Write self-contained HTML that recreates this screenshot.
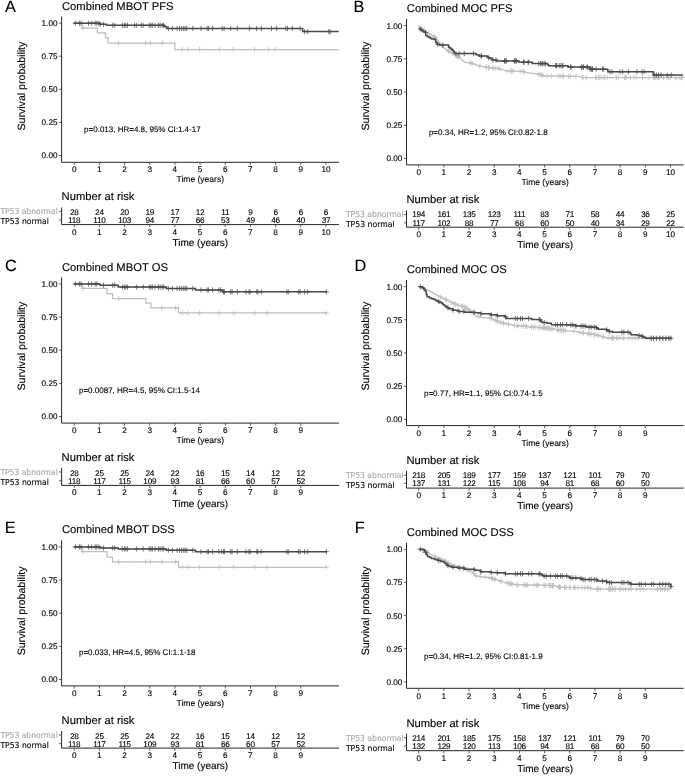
<!DOCTYPE html>
<html><head><meta charset="utf-8"><title>Figure</title>
<style>
html,body{margin:0;padding:0;background:#fff}
svg{display:block}
text{font-family:"Liberation Sans",sans-serif;text-rendering:geometricPrecision;stroke:#000;stroke-width:.12px}
text.n{letter-spacing:-0.25px}
text.g{stroke:#a8a8a8}
text.rl{font-family:"DejaVu Sans",sans-serif;font-size:8.2px}
</style></head><body>
<svg width="685" height="776" viewBox="0 0 685 776">
<rect width="685" height="776" fill="#fff"/>
<g>
<text x="4.9" y="11.7" font-size="16.3" fill="#000">A</text>
<text x="61.9" y="10.2" font-size="11.25" fill="#000">Combined MBOT PFS</text>
<path d="M61.60 16.50V162.30H339.00" fill="none" stroke="#262626" stroke-width="1"/>
<text x="57.5" y="158.4" font-size="8.2" text-anchor="end" fill="#000">0.00</text>
<text x="57.5" y="125.3" font-size="8.2" text-anchor="end" fill="#000">0.25</text>
<text x="57.5" y="92.2" font-size="8.2" text-anchor="end" fill="#000">0.50</text>
<text x="57.5" y="59.1" font-size="8.2" text-anchor="end" fill="#000">0.75</text>
<text x="57.5" y="26.0" font-size="8.2" text-anchor="end" fill="#000">1.00</text>
<text x="74.2" y="172.2" font-size="8.2" text-anchor="middle" fill="#000">0</text>
<text x="99.4" y="172.2" font-size="8.2" text-anchor="middle" fill="#000">1</text>
<text x="124.6" y="172.2" font-size="8.2" text-anchor="middle" fill="#000">2</text>
<text x="149.8" y="172.2" font-size="8.2" text-anchor="middle" fill="#000">3</text>
<text x="174.9" y="172.2" font-size="8.2" text-anchor="middle" fill="#000">4</text>
<text x="200.1" y="172.2" font-size="8.2" text-anchor="middle" fill="#000">5</text>
<text x="225.3" y="172.2" font-size="8.2" text-anchor="middle" fill="#000">6</text>
<text x="250.4" y="172.2" font-size="8.2" text-anchor="middle" fill="#000">7</text>
<text x="275.6" y="172.2" font-size="8.2" text-anchor="middle" fill="#000">8</text>
<text x="300.8" y="172.2" font-size="8.2" text-anchor="middle" fill="#000">9</text>
<text x="326.0" y="172.2" font-size="8.2" text-anchor="middle" fill="#000">10</text>
<path d="M61.60 155.50h-2.7M61.60 122.40h-2.7M61.60 89.30h-2.7M61.60 56.20h-2.7M61.60 23.10h-2.7M74.25 162.30v2.7M99.42 162.30v2.7M124.59 162.30v2.7M149.76 162.30v2.7M174.93 162.30v2.7M200.10 162.30v2.7M225.27 162.30v2.7M250.44 162.30v2.7M275.61 162.30v2.7M300.78 162.30v2.7M325.95 162.30v2.7" stroke="#333" stroke-width="0.75" fill="none"/>
<text x="200.3" y="182.3" font-size="8.5" text-anchor="middle" fill="#000">Time (years)</text>
<text transform="translate(24.9 86.1) rotate(-90)" font-size="10.6" text-anchor="middle" fill="#000">Survival probability</text>
<text x="84.1" y="132.2" font-size="8" fill="#000">p=0.013, HR=4.8, 95% CI:1.4-17</text>
<path d="M73.90 23.20 L82.00 23.20 L82.00 28.00 L97.40 28.00 L97.40 32.90 L105.40 32.90 L105.40 37.60 L108.00 37.60 L108.00 43.10 L174.90 43.10 L174.90 49.50 L339.00 49.50 L339.00 49.50" fill="none" stroke="#bebebe" stroke-width="1.25"/>
<path d="M199.60 46.90v5.20M197.00 49.50h5.20M83.09 25.40v5.20M80.49 28.00h5.20M118.66 40.50v5.20M116.06 43.10h5.20M145.84 40.50v5.20M143.24 43.10h5.20M150.54 40.50v5.20M147.94 43.10h5.20M162.19 40.50v5.20M159.59 43.10h5.20M182.22 46.90v5.20M179.62 49.50h5.20M187.73 46.90v5.20M185.13 49.50h5.20M219.42 46.90v5.20M216.82 49.50h5.20M233.11 46.90v5.20M230.51 49.50h5.20M254.57 46.90v5.20M251.97 49.50h5.20M268.47 46.90v5.20M265.87 49.50h5.20M275.21 46.90v5.20M272.61 49.50h5.20" fill="none" stroke="#bebebe" stroke-width="0.75"/>
<path d="M73.90 23.20 L99.85 23.20 L99.85 24.31 L106.60 24.31 L106.60 25.33 L164.23 25.33 L164.23 26.76 L166.80 26.76 L166.80 28.50 L302.70 28.50 L302.70 31.60 L338.70 31.60 L338.70 31.60" fill="none" stroke="#4a4a4a" stroke-width="1.5"/>
<path d="M75.33 20.60v5.20M72.73 23.20h5.20M79.42 20.60v5.20M76.82 23.20h5.20M81.05 20.60v5.20M78.45 23.20h5.20M88.61 20.60v5.20M86.01 23.20h5.20M91.68 20.60v5.20M89.08 23.20h5.20M95.15 20.60v5.20M92.55 23.20h5.20M96.79 20.60v5.20M94.19 23.20h5.20M98.83 20.60v5.20M96.23 23.20h5.20M100.26 21.71v5.20M97.66 24.31h5.20M103.53 21.71v5.20M100.93 24.31h5.20M112.73 22.73v5.20M110.13 25.33h5.20M114.77 22.73v5.20M112.17 25.33h5.20M122.33 22.73v5.20M119.73 25.33h5.20M124.38 22.73v5.20M121.78 25.33h5.20M125.81 22.73v5.20M123.21 25.33h5.20M127.44 22.73v5.20M124.84 25.33h5.20M134.60 22.73v5.20M132.00 25.33h5.20M136.64 22.73v5.20M134.04 25.33h5.20M141.34 22.73v5.20M138.74 25.33h5.20M143.18 22.73v5.20M140.58 25.33h5.20M149.31 22.73v5.20M146.71 25.33h5.20M150.95 22.73v5.20M148.35 25.33h5.20M152.38 22.73v5.20M149.78 25.33h5.20M155.03 22.73v5.20M152.43 25.33h5.20M158.51 22.73v5.20M155.91 25.33h5.20M160.14 22.73v5.20M157.54 25.33h5.20M162.19 22.73v5.20M159.59 25.33h5.20M163.62 22.73v5.20M161.02 25.33h5.20M168.32 25.90v5.20M165.72 28.50h5.20M172.41 25.90v5.20M169.81 28.50h5.20M177.11 25.90v5.20M174.51 28.50h5.20M179.56 25.90v5.20M176.96 28.50h5.20M181.60 25.90v5.20M179.00 28.50h5.20M183.65 25.90v5.20M181.05 28.50h5.20M185.08 25.90v5.20M182.48 28.50h5.20M186.71 25.90v5.20M184.11 28.50h5.20M192.84 25.90v5.20M190.24 28.50h5.20M201.02 25.90v5.20M198.42 28.50h5.20M207.15 25.90v5.20M204.55 28.50h5.20M208.58 25.90v5.20M205.98 28.50h5.20M212.67 25.90v5.20M210.07 28.50h5.20M222.07 25.90v5.20M219.47 28.50h5.20M224.12 25.90v5.20M221.52 28.50h5.20M230.66 25.90v5.20M228.06 28.50h5.20M237.40 25.90v5.20M234.80 28.50h5.20M249.46 25.90v5.20M246.86 28.50h5.20M256.61 25.90v5.20M254.01 28.50h5.20M261.31 25.90v5.20M258.71 28.50h5.20M271.53 25.90v5.20M268.93 28.50h5.20M276.64 25.90v5.20M274.04 28.50h5.20M285.84 25.90v5.20M283.24 28.50h5.20M287.47 25.90v5.20M284.87 28.50h5.20M292.38 25.90v5.20M289.78 28.50h5.20M300.14 25.90v5.20M297.54 28.50h5.20M304.64 29.00v5.20M302.04 31.60h5.20M307.70 29.00v5.20M305.10 31.60h5.20M328.76 29.00v5.20M326.16 31.60h5.20M330.19 29.00v5.20M327.59 31.60h5.20" fill="none" stroke="#4a4a4a" stroke-width="0.75"/>
<text x="61.6" y="200.3" font-size="11.2" fill="#000">Number at risk</text>
<path d="M61.60 207.50V224.60H339.00" stroke="#262626" stroke-width="1" fill="none"/>
<text x="74.2" y="234.5" font-size="8.2" text-anchor="middle" fill="#000">0</text>
<text class="n" x="74.2" y="215.0" font-size="8.2" text-anchor="middle" fill="#000">28</text>
<text class="n" x="74.2" y="223.0" font-size="8.2" text-anchor="middle" fill="#000">118</text>
<text x="99.4" y="234.5" font-size="8.2" text-anchor="middle" fill="#000">1</text>
<text class="n" x="99.4" y="215.0" font-size="8.2" text-anchor="middle" fill="#000">24</text>
<text class="n" x="99.4" y="223.0" font-size="8.2" text-anchor="middle" fill="#000">110</text>
<text x="124.6" y="234.5" font-size="8.2" text-anchor="middle" fill="#000">2</text>
<text class="n" x="124.6" y="215.0" font-size="8.2" text-anchor="middle" fill="#000">20</text>
<text class="n" x="124.6" y="223.0" font-size="8.2" text-anchor="middle" fill="#000">103</text>
<text x="149.8" y="234.5" font-size="8.2" text-anchor="middle" fill="#000">3</text>
<text class="n" x="149.8" y="215.0" font-size="8.2" text-anchor="middle" fill="#000">19</text>
<text class="n" x="149.8" y="223.0" font-size="8.2" text-anchor="middle" fill="#000">94</text>
<text x="174.9" y="234.5" font-size="8.2" text-anchor="middle" fill="#000">4</text>
<text class="n" x="174.9" y="215.0" font-size="8.2" text-anchor="middle" fill="#000">17</text>
<text class="n" x="174.9" y="223.0" font-size="8.2" text-anchor="middle" fill="#000">77</text>
<text x="200.1" y="234.5" font-size="8.2" text-anchor="middle" fill="#000">5</text>
<text class="n" x="200.1" y="215.0" font-size="8.2" text-anchor="middle" fill="#000">12</text>
<text class="n" x="200.1" y="223.0" font-size="8.2" text-anchor="middle" fill="#000">66</text>
<text x="225.3" y="234.5" font-size="8.2" text-anchor="middle" fill="#000">6</text>
<text class="n" x="225.3" y="215.0" font-size="8.2" text-anchor="middle" fill="#000">11</text>
<text class="n" x="225.3" y="223.0" font-size="8.2" text-anchor="middle" fill="#000">53</text>
<text x="250.4" y="234.5" font-size="8.2" text-anchor="middle" fill="#000">7</text>
<text class="n" x="250.4" y="215.0" font-size="8.2" text-anchor="middle" fill="#000">9</text>
<text class="n" x="250.4" y="223.0" font-size="8.2" text-anchor="middle" fill="#000">49</text>
<text x="275.6" y="234.5" font-size="8.2" text-anchor="middle" fill="#000">8</text>
<text class="n" x="275.6" y="215.0" font-size="8.2" text-anchor="middle" fill="#000">6</text>
<text class="n" x="275.6" y="223.0" font-size="8.2" text-anchor="middle" fill="#000">46</text>
<text x="300.8" y="234.5" font-size="8.2" text-anchor="middle" fill="#000">9</text>
<text class="n" x="300.8" y="215.0" font-size="8.2" text-anchor="middle" fill="#000">6</text>
<text class="n" x="300.8" y="223.0" font-size="8.2" text-anchor="middle" fill="#000">40</text>
<text x="326.0" y="234.5" font-size="8.2" text-anchor="middle" fill="#000">10</text>
<text class="n" x="326.0" y="215.0" font-size="8.2" text-anchor="middle" fill="#000">6</text>
<text class="n" x="326.0" y="223.0" font-size="8.2" text-anchor="middle" fill="#000">37</text>
<path d="M61.60 211.70h-2.7M61.60 220.10h-2.7M74.25 224.60v2.7M99.42 224.60v2.7M124.59 224.60v2.7M149.76 224.60v2.7M174.93 224.60v2.7M200.10 224.60v2.7M225.27 224.60v2.7M250.44 224.60v2.7M275.61 224.60v2.7M300.78 224.60v2.7M325.95 224.60v2.7" stroke="#333" stroke-width="0.75" fill="none"/>
<text class="rl g" x="0.4" y="214.0" fill="#a8a8a8" textLength="57.4" lengthAdjust="spacingAndGlyphs">TP53 abnormal</text>
<text class="rl" x="0.4" y="224.0" fill="#000" textLength="48.4" lengthAdjust="spacingAndGlyphs">TP53 normal</text>
<text x="200.3" y="246.0" font-size="10" text-anchor="middle" fill="#000">Time (years)</text>
</g>
<g>
<text x="353.4" y="11.7" font-size="16.3" fill="#000">B</text>
<text x="406.8" y="12.0" font-size="11.25" fill="#000">Combined MOC PFS</text>
<path d="M406.50 19.00V164.90H683.70" fill="none" stroke="#262626" stroke-width="1"/>
<text x="402.4" y="161.4" font-size="8.2" text-anchor="end" fill="#000">0.00</text>
<text x="402.4" y="128.2" font-size="8.2" text-anchor="end" fill="#000">0.25</text>
<text x="402.4" y="95.0" font-size="8.2" text-anchor="end" fill="#000">0.50</text>
<text x="402.4" y="61.7" font-size="8.2" text-anchor="end" fill="#000">0.75</text>
<text x="402.4" y="28.5" font-size="8.2" text-anchor="end" fill="#000">1.00</text>
<text x="418.7" y="175.0" font-size="8.2" text-anchor="middle" fill="#000">0</text>
<text x="443.9" y="175.0" font-size="8.2" text-anchor="middle" fill="#000">1</text>
<text x="469.1" y="175.0" font-size="8.2" text-anchor="middle" fill="#000">2</text>
<text x="494.2" y="175.0" font-size="8.2" text-anchor="middle" fill="#000">3</text>
<text x="519.4" y="175.0" font-size="8.2" text-anchor="middle" fill="#000">4</text>
<text x="544.6" y="175.0" font-size="8.2" text-anchor="middle" fill="#000">5</text>
<text x="569.8" y="175.0" font-size="8.2" text-anchor="middle" fill="#000">6</text>
<text x="595.0" y="175.0" font-size="8.2" text-anchor="middle" fill="#000">7</text>
<text x="620.1" y="175.0" font-size="8.2" text-anchor="middle" fill="#000">8</text>
<text x="645.3" y="175.0" font-size="8.2" text-anchor="middle" fill="#000">9</text>
<text x="670.5" y="175.0" font-size="8.2" text-anchor="middle" fill="#000">10</text>
<path d="M406.50 158.50h-2.7M406.50 125.28h-2.7M406.50 92.05h-2.7M406.50 58.82h-2.7M406.50 25.60h-2.7M418.70 164.90v2.7M443.88 164.90v2.7M469.06 164.90v2.7M494.24 164.90v2.7M519.42 164.90v2.7M544.60 164.90v2.7M569.78 164.90v2.7M594.96 164.90v2.7M620.14 164.90v2.7M645.32 164.90v2.7M670.50 164.90v2.7" stroke="#333" stroke-width="0.75" fill="none"/>
<text x="545.1" y="185.1" font-size="8.5" text-anchor="middle" fill="#000">Time (years)</text>
<text transform="translate(368.5 86.1) rotate(-90)" font-size="10.6" text-anchor="middle" fill="#000">Survival probability</text>
<text x="428.9" y="134.6" font-size="8" fill="#000">p=0.34, HR=1.2, 95% CI:0.82-1.8</text>
<path d="M418.18 25.59 L420.51 27.34 L422.85 29.09 L425.18 30.85 L427.52 32.60 L430.44 34.35 L433.36 36.10 L436.28 38.44 L438.61 41.36 L440.95 44.28 L443.28 47.20 L446.20 49.53 L449.71 51.87 L453.21 53.62 L456.72 55.96 L460.22 58.29 L462.55 60.63 L466.06 62.38 L470.73 62.96 L474.23 64.13 L478.91 65.88 L484.74 67.05 L490.00 67.64 L499.52 68.72 L505.66 70.77 L522.01 71.38 L528.14 72.81 L538.36 73.83 L543.47 75.87 L579.23 76.49 L582.30 77.51 L683.00 77.51" fill="none" stroke="#bebebe" stroke-width="1.25"/>
<path d="M420.79 24.95v5.20M418.19 27.55h5.20M423.93 27.31v5.20M421.33 29.91h5.20M429.04 30.91v5.20M426.44 33.51h5.20M434.06 34.06v5.20M431.46 36.66h5.20M434.28 34.24v5.20M431.68 36.84h5.20M435.56 35.27v5.20M432.96 37.87h5.20M442.20 43.24v5.20M439.60 45.84h5.20M448.22 48.27v5.20M445.62 50.87h5.20M448.58 48.52v5.20M445.98 51.12h5.20M452.65 50.74v5.20M450.05 53.34h5.20M456.24 53.04v5.20M453.64 55.64h5.20M457.54 53.91v5.20M454.94 56.51h5.20M458.09 54.27v5.20M455.49 56.87h5.20M458.34 54.44v5.20M455.74 57.04h5.20M470.19 60.30v5.20M467.59 62.90h5.20M470.25 60.30v5.20M467.65 62.90h5.20M472.08 60.81v5.20M469.48 63.41h5.20M479.74 63.45v5.20M477.14 66.05h5.20M486.30 64.62v5.20M483.70 67.22h5.20M486.37 64.63v5.20M483.77 67.23h5.20M488.61 64.88v5.20M486.01 67.48h5.20M488.97 64.92v5.20M486.37 67.52h5.20M489.12 64.94v5.20M486.52 67.54h5.20M492.88 65.36v5.20M490.28 67.96h5.20M493.00 65.38v5.20M490.40 67.98h5.20M495.63 65.68v5.20M493.03 68.28h5.20M497.97 65.94v5.20M495.37 68.54h5.20M499.78 66.21v5.20M497.18 68.81h5.20M507.60 68.24v5.20M505.00 70.84h5.20M510.61 68.35v5.20M508.01 70.95h5.20M511.71 68.39v5.20M509.11 70.99h5.20M513.11 68.44v5.20M510.51 71.04h5.20M520.07 68.71v5.20M517.47 71.31h5.20M522.86 68.98v5.20M520.26 71.58h5.20M524.05 69.26v5.20M521.45 71.86h5.20M537.85 71.18v5.20M535.25 73.78h5.20M539.66 71.75v5.20M537.06 74.35h5.20M541.11 72.33v5.20M538.51 74.93h5.20M541.16 72.35v5.20M538.56 74.95h5.20M542.86 73.03v5.20M540.26 75.63h5.20M547.18 73.34v5.20M544.58 75.94h5.20M551.23 73.41v5.20M548.63 76.01h5.20M558.33 73.53v5.20M555.73 76.13h5.20M560.18 73.56v5.20M557.58 76.16h5.20M562.81 73.61v5.20M560.21 76.21h5.20M563.32 73.62v5.20M560.72 76.22h5.20M568.54 73.70v5.20M565.94 76.30h5.20M570.26 73.73v5.20M567.66 76.33h5.20M575.97 73.83v5.20M573.37 76.43h5.20M582.60 74.91v5.20M580.00 77.51h5.20M582.97 74.91v5.20M580.37 77.51h5.20M586.21 74.91v5.20M583.61 77.51h5.20M595.53 74.91v5.20M592.93 77.51h5.20M596.43 74.91v5.20M593.83 77.51h5.20M598.60 74.91v5.20M596.00 77.51h5.20M598.77 74.91v5.20M596.17 77.51h5.20M599.99 74.91v5.20M597.39 77.51h5.20M601.75 74.91v5.20M599.15 77.51h5.20M603.92 74.91v5.20M601.32 77.51h5.20M604.75 74.91v5.20M602.15 77.51h5.20M607.21 74.91v5.20M604.61 77.51h5.20M616.27 74.91v5.20M613.67 77.51h5.20M616.30 74.91v5.20M613.70 77.51h5.20M618.44 74.91v5.20M615.84 77.51h5.20M624.90 74.91v5.20M622.30 77.51h5.20M624.97 74.91v5.20M622.37 77.51h5.20M625.84 74.91v5.20M623.24 77.51h5.20M625.92 74.91v5.20M623.32 77.51h5.20M630.47 74.91v5.20M627.87 77.51h5.20M633.92 74.91v5.20M631.32 77.51h5.20M636.06 74.91v5.20M633.46 77.51h5.20M642.52 74.91v5.20M639.92 77.51h5.20M642.58 74.91v5.20M639.98 77.51h5.20M648.82 74.91v5.20M646.22 77.51h5.20M653.35 74.91v5.20M650.75 77.51h5.20M653.85 74.91v5.20M651.25 77.51h5.20M654.71 74.91v5.20M652.11 77.51h5.20M655.70 74.91v5.20M653.10 77.51h5.20M657.17 74.91v5.20M654.57 77.51h5.20M658.40 74.91v5.20M655.80 77.51h5.20M658.41 74.91v5.20M655.81 77.51h5.20M658.82 74.91v5.20M656.22 77.51h5.20M663.55 74.91v5.20M660.95 77.51h5.20M663.65 74.91v5.20M661.05 77.51h5.20M666.98 74.91v5.20M664.38 77.51h5.20M668.58 74.91v5.20M665.98 77.51h5.20M669.92 74.91v5.20M667.32 77.51h5.20M675.82 74.91v5.20M673.22 77.51h5.20M675.99 74.91v5.20M673.39 77.51h5.20M679.07 74.91v5.20M676.47 77.51h5.20M680.93 74.91v5.20M678.33 77.51h5.20M681.17 74.91v5.20M678.57 77.51h5.20M682.70 74.91v5.20M680.10 77.51h5.20" fill="none" stroke="#bebebe" stroke-width="0.75"/>
<path d="M418.76 28.51 L420.51 28.51 L420.51 29.68 L421.68 29.68 L421.68 30.55 L422.85 30.55 L422.85 31.43 L425.18 31.43 L425.18 32.60 L425.77 32.60 L425.77 35.52 L427.23 35.52 L427.23 36.39 L428.69 36.39 L428.69 37.27 L430.15 37.27 L430.15 38.15 L431.61 38.15 L431.61 39.02 L434.53 39.02 L434.53 39.61 L435.69 39.61 L435.69 41.94 L436.57 41.94 L436.57 43.11 L437.45 43.11 L437.45 44.28 L439.20 44.28 L439.20 45.09 L447.37 45.09 L448.54 45.09 L448.54 47.20 L449.71 47.20 L449.71 48.07 L450.88 48.07 L450.88 48.95 L452.04 48.95 L452.04 50.12 L453.21 50.12 L453.21 51.28 L454.09 51.28 L454.09 52.45 L454.96 52.45 L454.96 53.62 L473.65 53.62 L475.99 53.62 L475.99 54.79 L478.91 54.79 L478.91 55.96 L485.91 55.96 L487.08 55.96 L487.08 56.83 L488.25 56.83 L488.25 57.71 L490.00 57.71 L490.00 58.29 L490.33 58.29 L490.33 58.50 L492.37 58.50 L492.37 59.93 L496.46 59.93 L496.46 60.96 L516.90 60.96 L518.94 60.96 L518.94 62.18 L530.18 62.18 L532.22 62.18 L532.22 63.61 L546.53 63.61 L547.55 63.61 L547.55 64.63 L548.57 64.63 L548.57 65.66 L566.97 65.66 L567.99 65.66 L567.99 67.09 L588.43 67.09 L589.86 67.09 L589.86 69.13 L606.82 69.13 L607.84 69.13 L607.84 71.79 L615.00 71.79 L652.30 71.79 L653.32 71.79 L653.32 75.04 L682.95 75.04" fill="none" stroke="#4a4a4a" stroke-width="1.5"/>
<path d="M420.94 27.08v5.20M418.34 29.68h5.20M425.44 30.00v5.20M422.84 32.60h5.20M437.70 41.68v5.20M435.10 44.28h5.20M442.81 42.49v5.20M440.21 45.09h5.20M456.09 51.02v5.20M453.49 53.62h5.20M459.16 51.02v5.20M456.56 53.62h5.20M464.27 51.02v5.20M461.67 53.62h5.20M473.47 51.02v5.20M470.87 53.62h5.20M481.64 53.36v5.20M479.04 55.96h5.20M488.79 55.11v5.20M486.19 57.71h5.20M492.88 57.33v5.20M490.28 59.93h5.20M495.95 57.33v5.20M493.35 59.93h5.20M504.73 58.36v5.20M502.13 60.96h5.20M506.16 58.36v5.20M503.56 60.96h5.20M514.34 58.36v5.20M511.74 60.96h5.20M516.38 58.36v5.20M513.78 60.96h5.20M523.54 59.58v5.20M520.94 62.18h5.20M528.65 59.58v5.20M526.05 62.18h5.20M538.86 61.01v5.20M536.26 63.61h5.20M541.93 61.01v5.20M539.33 63.61h5.20M481.13 53.36v5.20M478.53 55.96h5.20M504.63 58.36v5.20M502.03 60.96h5.20M506.06 58.36v5.20M503.46 60.96h5.20M514.85 58.36v5.20M512.25 60.96h5.20M515.87 58.36v5.20M513.27 60.96h5.20M524.05 59.58v5.20M521.45 62.18h5.20M528.14 59.58v5.20M525.54 62.18h5.20M540.40 61.01v5.20M537.80 63.61h5.20M542.44 61.01v5.20M539.84 63.61h5.20M544.08 61.01v5.20M541.48 63.61h5.20M545.51 61.01v5.20M542.91 63.61h5.20M555.73 63.06v5.20M553.13 65.66h5.20M556.75 63.06v5.20M554.15 65.66h5.20M560.84 63.06v5.20M558.24 65.66h5.20M562.88 63.06v5.20M560.28 65.66h5.20M571.06 64.49v5.20M568.46 67.09h5.20M581.27 64.49v5.20M578.67 67.09h5.20M583.32 64.49v5.20M580.72 67.09h5.20M587.41 64.49v5.20M584.81 67.09h5.20M591.49 66.53v5.20M588.89 69.13h5.20M592.51 66.53v5.20M589.91 69.13h5.20M602.73 66.53v5.20M600.13 69.13h5.20M556.24 63.06v5.20M553.64 65.66h5.20M559.31 63.06v5.20M556.71 65.66h5.20M562.37 63.06v5.20M559.77 65.66h5.20M570.55 64.49v5.20M567.95 67.09h5.20M581.79 64.49v5.20M579.19 67.09h5.20M583.42 64.49v5.20M580.82 67.09h5.20M586.90 64.49v5.20M584.30 67.09h5.20M590.37 66.53v5.20M587.77 69.13h5.20M592.41 66.53v5.20M589.81 69.13h5.20M596.09 66.53v5.20M593.49 69.13h5.20M603.25 66.53v5.20M600.65 69.13h5.20M609.99 69.19v5.20M607.39 71.79h5.20M612.03 69.19v5.20M609.43 71.79h5.20M620.01 69.19v5.20M617.41 71.79h5.20M622.66 69.19v5.20M620.06 71.79h5.20M628.38 69.19v5.20M625.78 71.79h5.20M636.97 69.19v5.20M634.37 71.79h5.20M642.08 69.19v5.20M639.48 71.79h5.20M644.12 69.19v5.20M641.52 71.79h5.20M654.34 72.44v5.20M651.74 75.04h5.20M656.38 72.44v5.20M653.78 75.04h5.20M658.43 72.44v5.20M655.83 75.04h5.20M661.08 72.44v5.20M658.48 75.04h5.20M667.22 72.44v5.20M664.62 75.04h5.20M671.30 72.44v5.20M668.70 75.04h5.20" fill="none" stroke="#4a4a4a" stroke-width="0.75"/>
<text x="406.5" y="203.0" font-size="11.2" fill="#000">Number at risk</text>
<path d="M406.50 210.20V227.20H683.70" stroke="#262626" stroke-width="1" fill="none"/>
<text x="418.7" y="237.0" font-size="8.2" text-anchor="middle" fill="#000">0</text>
<text class="n" x="418.7" y="217.3" font-size="8.2" text-anchor="middle" fill="#000">194</text>
<text class="n" x="418.7" y="225.8" font-size="8.2" text-anchor="middle" fill="#000">117</text>
<text x="443.9" y="237.0" font-size="8.2" text-anchor="middle" fill="#000">1</text>
<text class="n" x="443.9" y="217.3" font-size="8.2" text-anchor="middle" fill="#000">161</text>
<text class="n" x="443.9" y="225.8" font-size="8.2" text-anchor="middle" fill="#000">102</text>
<text x="469.1" y="237.0" font-size="8.2" text-anchor="middle" fill="#000">2</text>
<text class="n" x="469.1" y="217.3" font-size="8.2" text-anchor="middle" fill="#000">135</text>
<text class="n" x="469.1" y="225.8" font-size="8.2" text-anchor="middle" fill="#000">88</text>
<text x="494.2" y="237.0" font-size="8.2" text-anchor="middle" fill="#000">3</text>
<text class="n" x="494.2" y="217.3" font-size="8.2" text-anchor="middle" fill="#000">123</text>
<text class="n" x="494.2" y="225.8" font-size="8.2" text-anchor="middle" fill="#000">77</text>
<text x="519.4" y="237.0" font-size="8.2" text-anchor="middle" fill="#000">4</text>
<text class="n" x="519.4" y="217.3" font-size="8.2" text-anchor="middle" fill="#000">111</text>
<text class="n" x="519.4" y="225.8" font-size="8.2" text-anchor="middle" fill="#000">68</text>
<text x="544.6" y="237.0" font-size="8.2" text-anchor="middle" fill="#000">5</text>
<text class="n" x="544.6" y="217.3" font-size="8.2" text-anchor="middle" fill="#000">83</text>
<text class="n" x="544.6" y="225.8" font-size="8.2" text-anchor="middle" fill="#000">60</text>
<text x="569.8" y="237.0" font-size="8.2" text-anchor="middle" fill="#000">6</text>
<text class="n" x="569.8" y="217.3" font-size="8.2" text-anchor="middle" fill="#000">71</text>
<text class="n" x="569.8" y="225.8" font-size="8.2" text-anchor="middle" fill="#000">50</text>
<text x="595.0" y="237.0" font-size="8.2" text-anchor="middle" fill="#000">7</text>
<text class="n" x="595.0" y="217.3" font-size="8.2" text-anchor="middle" fill="#000">58</text>
<text class="n" x="595.0" y="225.8" font-size="8.2" text-anchor="middle" fill="#000">40</text>
<text x="620.1" y="237.0" font-size="8.2" text-anchor="middle" fill="#000">8</text>
<text class="n" x="620.1" y="217.3" font-size="8.2" text-anchor="middle" fill="#000">44</text>
<text class="n" x="620.1" y="225.8" font-size="8.2" text-anchor="middle" fill="#000">34</text>
<text x="645.3" y="237.0" font-size="8.2" text-anchor="middle" fill="#000">9</text>
<text class="n" x="645.3" y="217.3" font-size="8.2" text-anchor="middle" fill="#000">36</text>
<text class="n" x="645.3" y="225.8" font-size="8.2" text-anchor="middle" fill="#000">29</text>
<text x="670.5" y="237.0" font-size="8.2" text-anchor="middle" fill="#000">10</text>
<text class="n" x="670.5" y="217.3" font-size="8.2" text-anchor="middle" fill="#000">25</text>
<text class="n" x="670.5" y="225.8" font-size="8.2" text-anchor="middle" fill="#000">22</text>
<path d="M406.50 214.70h-2.7M406.50 222.90h-2.7M418.70 227.20v2.7M443.88 227.20v2.7M469.06 227.20v2.7M494.24 227.20v2.7M519.42 227.20v2.7M544.60 227.20v2.7M569.78 227.20v2.7M594.96 227.20v2.7M620.14 227.20v2.7M645.32 227.20v2.7M670.50 227.20v2.7" stroke="#333" stroke-width="0.75" fill="none"/>
<text class="rl g" x="345.9" y="217.0" fill="#a8a8a8" textLength="57.8" lengthAdjust="spacingAndGlyphs">TP53 abnormal</text>
<text class="rl" x="345.9" y="227.0" fill="#000" textLength="48.7" lengthAdjust="spacingAndGlyphs">TP53 normal</text>
<text x="545.1" y="248.3" font-size="10" text-anchor="middle" fill="#000">Time (years)</text>
</g>
<g>
<text x="5.0" y="271.4" font-size="16.3" fill="#000">C</text>
<text x="61.9" y="270.6" font-size="11.25" fill="#000">Combined MBOT OS</text>
<path d="M61.60 277.30V423.10H339.00" fill="none" stroke="#262626" stroke-width="1"/>
<text x="57.5" y="419.4" font-size="8.2" text-anchor="end" fill="#000">0.00</text>
<text x="57.5" y="386.2" font-size="8.2" text-anchor="end" fill="#000">0.25</text>
<text x="57.5" y="353.1" font-size="8.2" text-anchor="end" fill="#000">0.50</text>
<text x="57.5" y="319.9" font-size="8.2" text-anchor="end" fill="#000">0.75</text>
<text x="57.5" y="286.8" font-size="8.2" text-anchor="end" fill="#000">1.00</text>
<text x="74.2" y="433.0" font-size="8.2" text-anchor="middle" fill="#000">0</text>
<text x="99.4" y="433.0" font-size="8.2" text-anchor="middle" fill="#000">1</text>
<text x="124.6" y="433.0" font-size="8.2" text-anchor="middle" fill="#000">2</text>
<text x="149.8" y="433.0" font-size="8.2" text-anchor="middle" fill="#000">3</text>
<text x="174.9" y="433.0" font-size="8.2" text-anchor="middle" fill="#000">4</text>
<text x="200.1" y="433.0" font-size="8.2" text-anchor="middle" fill="#000">5</text>
<text x="225.3" y="433.0" font-size="8.2" text-anchor="middle" fill="#000">6</text>
<text x="250.4" y="433.0" font-size="8.2" text-anchor="middle" fill="#000">7</text>
<text x="275.6" y="433.0" font-size="8.2" text-anchor="middle" fill="#000">8</text>
<text x="300.8" y="433.0" font-size="8.2" text-anchor="middle" fill="#000">9</text>
<path d="M61.60 416.50h-2.7M61.60 383.35h-2.7M61.60 350.20h-2.7M61.60 317.05h-2.7M61.60 283.90h-2.7M74.25 423.10v2.7M99.42 423.10v2.7M124.59 423.10v2.7M149.76 423.10v2.7M174.93 423.10v2.7M200.10 423.10v2.7M225.27 423.10v2.7M250.44 423.10v2.7M275.61 423.10v2.7M300.78 423.10v2.7" stroke="#333" stroke-width="0.75" fill="none"/>
<text x="200.3" y="443.1" font-size="8.5" text-anchor="middle" fill="#000">Time (years)</text>
<text transform="translate(24.9 346.1) rotate(-90)" font-size="10.6" text-anchor="middle" fill="#000">Survival probability</text>
<text x="79.0" y="393.3" font-size="8" fill="#000">p=0.0087, HR=4.5, 95% CI:1.5-14</text>
<path d="M73.90 283.90 L82.07 283.90 L82.07 288.39 L107.01 288.39 L107.01 293.50 L112.52 293.50 L112.52 298.61 L145.84 298.61 L145.84 303.11 L150.95 303.11 L150.95 307.81 L178.54 307.81 L178.54 312.92 L326.70 312.92 L326.70 313.10" fill="none" stroke="#bebebe" stroke-width="1.25"/>
<path d="M199.60 310.32v5.20M197.00 312.92h5.20M83.09 285.79v5.20M80.49 288.39h5.20M118.66 296.01v5.20M116.06 298.61h5.20M161.78 305.21v5.20M159.18 307.81h5.20M175.47 305.21v5.20M172.87 307.81h5.20M182.22 310.32v5.20M179.62 312.92h5.20M187.73 310.32v5.20M185.13 312.92h5.20M219.42 310.32v5.20M216.82 312.92h5.20M233.72 310.32v5.20M231.12 312.92h5.20M254.57 310.32v5.20M251.97 312.92h5.20M267.03 310.32v5.20M264.43 312.92h5.20M326.30 310.32v5.20M323.70 312.92h5.20" fill="none" stroke="#bebebe" stroke-width="0.75"/>
<path d="M73.90 283.90 L99.90 283.90 L99.90 285.30 L118.20 285.30 L118.20 287.10 L166.30 287.10 L166.30 288.50 L195.50 288.50 L195.50 289.90 L222.50 289.90 L222.50 291.80 L326.70 291.80 L326.70 291.80" fill="none" stroke="#4a4a4a" stroke-width="1.5"/>
<path d="M75.33 281.30v5.20M72.73 283.90h5.20M79.42 281.30v5.20M76.82 283.90h5.20M81.05 281.30v5.20M78.45 283.90h5.20M88.61 281.30v5.20M86.01 283.90h5.20M91.68 281.30v5.20M89.08 283.90h5.20M95.15 281.30v5.20M92.55 283.90h5.20M96.79 281.30v5.20M94.19 283.90h5.20M103.53 282.70v5.20M100.93 285.30h5.20M112.73 282.70v5.20M110.13 285.30h5.20M114.77 282.70v5.20M112.17 285.30h5.20M122.33 284.50v5.20M119.73 287.10h5.20M124.38 284.50v5.20M121.78 287.10h5.20M125.81 284.50v5.20M123.21 287.10h5.20M127.44 284.50v5.20M124.84 287.10h5.20M136.64 284.50v5.20M134.04 287.10h5.20M143.18 284.50v5.20M140.58 287.10h5.20M149.31 284.50v5.20M146.71 287.10h5.20M150.95 284.50v5.20M148.35 287.10h5.20M152.38 284.50v5.20M149.78 287.10h5.20M155.03 284.50v5.20M152.43 287.10h5.20M158.51 284.50v5.20M155.91 287.10h5.20M160.14 284.50v5.20M157.54 287.10h5.20M162.19 284.50v5.20M159.59 287.10h5.20M163.62 284.50v5.20M161.02 287.10h5.20M168.32 285.90v5.20M165.72 288.50h5.20M172.41 285.90v5.20M169.81 288.50h5.20M177.11 285.90v5.20M174.51 288.50h5.20M179.56 285.90v5.20M176.96 288.50h5.20M181.60 285.90v5.20M179.00 288.50h5.20M183.65 285.90v5.20M181.05 288.50h5.20M185.08 285.90v5.20M182.48 288.50h5.20M186.71 285.90v5.20M184.11 288.50h5.20M192.84 285.90v5.20M190.24 288.50h5.20M201.02 287.30v5.20M198.42 289.90h5.20M207.15 287.30v5.20M204.55 289.90h5.20M208.58 287.30v5.20M205.98 289.90h5.20M212.67 287.30v5.20M210.07 289.90h5.20M218.80 287.30v5.20M216.20 289.90h5.20M220.44 287.30v5.20M217.84 289.90h5.20M223.50 289.20v5.20M220.90 291.80h5.20M224.52 289.20v5.20M221.92 291.80h5.20M230.66 289.20v5.20M228.06 291.80h5.20M232.09 289.20v5.20M229.49 291.80h5.20M237.40 289.20v5.20M234.80 291.80h5.20M245.98 289.20v5.20M243.38 291.80h5.20M249.05 289.20v5.20M246.45 291.80h5.20M250.07 289.20v5.20M247.47 291.80h5.20M256.82 289.20v5.20M254.22 291.80h5.20M257.84 289.20v5.20M255.24 291.80h5.20M261.31 289.20v5.20M258.71 291.80h5.20M286.86 289.20v5.20M284.26 291.80h5.20M288.29 289.20v5.20M285.69 291.80h5.20M298.71 289.20v5.20M296.11 291.80h5.20M300.14 289.20v5.20M297.54 291.80h5.20M304.64 289.20v5.20M302.04 291.80h5.20M307.70 289.20v5.20M305.10 291.80h5.20M326.30 289.20v5.20M323.70 291.80h5.20" fill="none" stroke="#4a4a4a" stroke-width="0.75"/>
<text x="61.6" y="461.1" font-size="11.2" fill="#000">Number at risk</text>
<path d="M61.60 468.10V485.40H339.00" stroke="#262626" stroke-width="1" fill="none"/>
<text x="74.2" y="495.4" font-size="8.2" text-anchor="middle" fill="#000">0</text>
<text class="n" x="74.2" y="476.0" font-size="8.2" text-anchor="middle" fill="#000">28</text>
<text class="n" x="74.2" y="484.0" font-size="8.2" text-anchor="middle" fill="#000">118</text>
<text x="99.4" y="495.4" font-size="8.2" text-anchor="middle" fill="#000">1</text>
<text class="n" x="99.4" y="476.0" font-size="8.2" text-anchor="middle" fill="#000">25</text>
<text class="n" x="99.4" y="484.0" font-size="8.2" text-anchor="middle" fill="#000">117</text>
<text x="124.6" y="495.4" font-size="8.2" text-anchor="middle" fill="#000">2</text>
<text class="n" x="124.6" y="476.0" font-size="8.2" text-anchor="middle" fill="#000">25</text>
<text class="n" x="124.6" y="484.0" font-size="8.2" text-anchor="middle" fill="#000">115</text>
<text x="149.8" y="495.4" font-size="8.2" text-anchor="middle" fill="#000">3</text>
<text class="n" x="149.8" y="476.0" font-size="8.2" text-anchor="middle" fill="#000">24</text>
<text class="n" x="149.8" y="484.0" font-size="8.2" text-anchor="middle" fill="#000">109</text>
<text x="174.9" y="495.4" font-size="8.2" text-anchor="middle" fill="#000">4</text>
<text class="n" x="174.9" y="476.0" font-size="8.2" text-anchor="middle" fill="#000">22</text>
<text class="n" x="174.9" y="484.0" font-size="8.2" text-anchor="middle" fill="#000">93</text>
<text x="200.1" y="495.4" font-size="8.2" text-anchor="middle" fill="#000">5</text>
<text class="n" x="200.1" y="476.0" font-size="8.2" text-anchor="middle" fill="#000">16</text>
<text class="n" x="200.1" y="484.0" font-size="8.2" text-anchor="middle" fill="#000">81</text>
<text x="225.3" y="495.4" font-size="8.2" text-anchor="middle" fill="#000">6</text>
<text class="n" x="225.3" y="476.0" font-size="8.2" text-anchor="middle" fill="#000">15</text>
<text class="n" x="225.3" y="484.0" font-size="8.2" text-anchor="middle" fill="#000">66</text>
<text x="250.4" y="495.4" font-size="8.2" text-anchor="middle" fill="#000">7</text>
<text class="n" x="250.4" y="476.0" font-size="8.2" text-anchor="middle" fill="#000">14</text>
<text class="n" x="250.4" y="484.0" font-size="8.2" text-anchor="middle" fill="#000">60</text>
<text x="275.6" y="495.4" font-size="8.2" text-anchor="middle" fill="#000">8</text>
<text class="n" x="275.6" y="476.0" font-size="8.2" text-anchor="middle" fill="#000">12</text>
<text class="n" x="275.6" y="484.0" font-size="8.2" text-anchor="middle" fill="#000">57</text>
<text x="300.8" y="495.4" font-size="8.2" text-anchor="middle" fill="#000">9</text>
<text class="n" x="300.8" y="476.0" font-size="8.2" text-anchor="middle" fill="#000">12</text>
<text class="n" x="300.8" y="484.0" font-size="8.2" text-anchor="middle" fill="#000">52</text>
<path d="M61.60 472.00h-2.7M61.60 480.70h-2.7M74.25 485.40v2.7M99.42 485.40v2.7M124.59 485.40v2.7M149.76 485.40v2.7M174.93 485.40v2.7M200.10 485.40v2.7M225.27 485.40v2.7M250.44 485.40v2.7M275.61 485.40v2.7M300.78 485.40v2.7" stroke="#333" stroke-width="0.75" fill="none"/>
<text class="rl g" x="0.4" y="475.0" fill="#a8a8a8" textLength="57.4" lengthAdjust="spacingAndGlyphs">TP53 abnormal</text>
<text class="rl" x="0.4" y="485.0" fill="#000" textLength="48.4" lengthAdjust="spacingAndGlyphs">TP53 normal</text>
<text x="200.3" y="507.0" font-size="10" text-anchor="middle" fill="#000">Time (years)</text>
</g>
<g>
<text x="354.5" y="271.4" font-size="16.3" fill="#000">D</text>
<text x="406.8" y="273.3" font-size="11.25" fill="#000">Combined MOC OS</text>
<path d="M406.50 280.00V425.60H683.70" fill="none" stroke="#262626" stroke-width="1"/>
<text x="402.4" y="422.2" font-size="8.2" text-anchor="end" fill="#000">0.00</text>
<text x="402.4" y="389.0" font-size="8.2" text-anchor="end" fill="#000">0.25</text>
<text x="402.4" y="355.9" font-size="8.2" text-anchor="end" fill="#000">0.50</text>
<text x="402.4" y="322.7" font-size="8.2" text-anchor="end" fill="#000">0.75</text>
<text x="402.4" y="289.5" font-size="8.2" text-anchor="end" fill="#000">1.00</text>
<text x="418.7" y="435.8" font-size="8.2" text-anchor="middle" fill="#000">0</text>
<text x="443.9" y="435.8" font-size="8.2" text-anchor="middle" fill="#000">1</text>
<text x="469.1" y="435.8" font-size="8.2" text-anchor="middle" fill="#000">2</text>
<text x="494.2" y="435.8" font-size="8.2" text-anchor="middle" fill="#000">3</text>
<text x="519.4" y="435.8" font-size="8.2" text-anchor="middle" fill="#000">4</text>
<text x="544.6" y="435.8" font-size="8.2" text-anchor="middle" fill="#000">5</text>
<text x="569.8" y="435.8" font-size="8.2" text-anchor="middle" fill="#000">6</text>
<text x="595.0" y="435.8" font-size="8.2" text-anchor="middle" fill="#000">7</text>
<text x="620.1" y="435.8" font-size="8.2" text-anchor="middle" fill="#000">8</text>
<text x="645.3" y="435.8" font-size="8.2" text-anchor="middle" fill="#000">9</text>
<path d="M406.50 419.30h-2.7M406.50 386.12h-2.7M406.50 352.95h-2.7M406.50 319.78h-2.7M406.50 286.60h-2.7M418.70 425.60v2.7M443.88 425.60v2.7M469.06 425.60v2.7M494.24 425.60v2.7M519.42 425.60v2.7M544.60 425.60v2.7M569.78 425.60v2.7M594.96 425.60v2.7M620.14 425.60v2.7M645.32 425.60v2.7" stroke="#333" stroke-width="0.75" fill="none"/>
<text x="545.1" y="445.9" font-size="8.5" text-anchor="middle" fill="#000">Time (years)</text>
<text transform="translate(368.5 346.1) rotate(-90)" font-size="10.6" text-anchor="middle" fill="#000">Survival probability</text>
<text x="424.0" y="396.0" font-size="8" fill="#000">p=0.77, HR=1.1, 95% CI:0.74-1.5</text>
<path d="M418.90 286.65 L425.44 288.90 L430.55 291.35 L435.66 294.42 L440.77 297.07 L445.87 299.52 L452.01 302.59 L458.14 305.25 L464.27 306.68 L468.36 309.74 L472.44 312.81 L475.51 315.87 L482.66 317.51 L490.84 318.33 L496.97 320.98 L503.10 323.03 L509.23 324.46 L515.36 325.68 L523.54 326.09 L531.71 327.12 L535.00 327.29 L543.17 327.70 L551.35 328.72 L559.52 330.15 L567.70 330.77 L575.87 331.38 L582.01 332.81 L590.18 333.83 L596.31 334.85 L602.44 336.49 L605.51 337.92 L645.36 338.12 L670.91 338.12" fill="none" stroke="#bebebe" stroke-width="1.25"/>
<path d="M422.89 285.42v5.20M420.29 288.02h5.20M423.56 285.65v5.20M420.96 288.25h5.20M440.54 294.35v5.20M437.94 296.95h5.20M445.48 296.74v5.20M442.88 299.34h5.20M446.48 297.23v5.20M443.88 299.83h5.20M451.47 299.72v5.20M448.87 302.32h5.20M454.39 301.02v5.20M451.79 303.62h5.20M455.63 301.56v5.20M453.03 304.16h5.20M457.91 302.55v5.20M455.31 305.15h5.20M461.55 303.44v5.20M458.95 306.04h5.20M462.57 303.68v5.20M459.97 306.28h5.20M462.65 303.70v5.20M460.05 306.30h5.20M464.78 304.46v5.20M462.18 307.06h5.20M465.62 305.09v5.20M463.02 307.69h5.20M467.24 306.30v5.20M464.64 308.90h5.20M468.46 307.22v5.20M465.86 309.82h5.20M470.03 308.40v5.20M467.43 311.00h5.20M470.37 308.65v5.20M467.77 311.25h5.20M472.22 310.04v5.20M469.62 312.64h5.20M478.18 313.89v5.20M475.58 316.49h5.20M489.69 315.61v5.20M487.09 318.21h5.20M491.94 316.20v5.20M489.34 318.80h5.20M495.37 317.69v5.20M492.77 320.29h5.20M496.78 318.30v5.20M494.18 320.90h5.20M498.27 318.82v5.20M495.67 321.42h5.20M500.65 319.61v5.20M498.05 322.21h5.20M503.11 320.43v5.20M500.51 323.03h5.20M503.77 320.58v5.20M501.17 323.18h5.20M508.41 321.67v5.20M505.81 324.27h5.20M508.48 321.68v5.20M505.88 324.28h5.20M514.26 322.86v5.20M511.66 325.46h5.20M516.93 323.16v5.20M514.33 325.76h5.20M518.16 323.22v5.20M515.56 325.82h5.20M521.84 323.41v5.20M519.24 326.01h5.20M523.70 323.51v5.20M521.10 326.11h5.20M525.70 323.76v5.20M523.10 326.36h5.20M526.24 323.83v5.20M523.64 326.43h5.20M526.71 323.89v5.20M524.11 326.49h5.20M531.16 324.45v5.20M528.56 327.05h5.20M531.50 324.49v5.20M528.90 327.09h5.20M533.42 324.61v5.20M530.82 327.21h5.20M535.16 324.70v5.20M532.56 327.30h5.20M537.96 324.84v5.20M535.36 327.44h5.20M539.00 324.89v5.20M536.40 327.49h5.20M540.87 324.98v5.20M538.27 327.58h5.20M542.06 325.04v5.20M539.46 327.64h5.20M543.40 325.13v5.20M540.80 327.73h5.20M543.77 325.17v5.20M541.17 327.77h5.20M544.80 325.30v5.20M542.20 327.90h5.20M545.08 325.34v5.20M542.48 327.94h5.20M546.73 325.54v5.20M544.13 328.14h5.20M547.14 325.60v5.20M544.54 328.20h5.20M548.34 325.75v5.20M545.74 328.35h5.20M548.49 325.76v5.20M545.89 328.36h5.20M549.36 325.87v5.20M546.76 328.47h5.20M550.95 326.07v5.20M548.35 328.67h5.20M551.68 326.18v5.20M549.08 328.78h5.20M552.80 326.38v5.20M550.20 328.98h5.20M557.33 327.17v5.20M554.73 329.77h5.20M558.37 327.35v5.20M555.77 329.95h5.20M558.77 327.42v5.20M556.17 330.02h5.20M560.93 327.66v5.20M558.33 330.26h5.20M561.38 327.69v5.20M558.78 330.29h5.20M563.15 327.82v5.20M560.55 330.42h5.20M563.88 327.88v5.20M561.28 330.48h5.20M565.28 327.98v5.20M562.68 330.58h5.20M574.15 328.65v5.20M571.55 331.25h5.20M579.70 329.67v5.20M577.10 332.27h5.20M582.97 330.33v5.20M580.37 332.93h5.20M583.39 330.38v5.20M580.79 332.98h5.20M587.83 330.94v5.20M585.23 333.54h5.20M588.51 331.02v5.20M585.91 333.62h5.20M589.87 331.19v5.20M587.27 333.79h5.20M591.03 331.37v5.20M588.43 333.97h5.20M594.64 331.97v5.20M592.04 334.57h5.20M595.10 332.05v5.20M592.50 334.65h5.20M597.73 332.63v5.20M595.13 335.23h5.20M598.97 332.96v5.20M596.37 335.56h5.20M602.92 334.11v5.20M600.32 336.71h5.20M603.32 334.30v5.20M600.72 336.90h5.20M608.12 335.33v5.20M605.52 337.93h5.20M611.14 335.35v5.20M608.54 337.95h5.20M612.53 335.35v5.20M609.93 337.95h5.20M612.88 335.36v5.20M610.28 337.96h5.20M612.95 335.36v5.20M610.35 337.96h5.20M613.01 335.36v5.20M610.41 337.96h5.20M616.70 335.38v5.20M614.10 337.98h5.20M617.39 335.38v5.20M614.79 337.98h5.20M619.77 335.39v5.20M617.17 337.99h5.20M623.20 335.41v5.20M620.60 338.01h5.20M623.89 335.41v5.20M621.29 338.01h5.20M628.89 335.44v5.20M626.29 338.04h5.20M632.06 335.45v5.20M629.46 338.05h5.20M634.86 335.47v5.20M632.26 338.07h5.20M638.17 335.49v5.20M635.57 338.09h5.20M646.88 335.52v5.20M644.28 338.12h5.20M648.96 335.52v5.20M646.36 338.12h5.20M650.57 335.52v5.20M647.97 338.12h5.20M653.46 335.52v5.20M650.86 338.12h5.20M656.09 335.52v5.20M653.49 338.12h5.20M660.55 335.52v5.20M657.95 338.12h5.20M663.11 335.52v5.20M660.51 338.12h5.20M665.94 335.52v5.20M663.34 338.12h5.20M668.75 335.52v5.20M666.15 338.12h5.20M669.45 335.52v5.20M666.85 338.12h5.20" fill="none" stroke="#bebebe" stroke-width="0.75"/>
<path d="M418.90 286.65 L420.94 286.65 L422.37 286.65 L422.37 287.77 L423.80 287.77 L423.80 288.90 L424.62 288.90 L424.62 290.12 L425.44 290.12 L425.44 291.35 L426.25 291.35 L426.25 294.42 L427.07 294.42 L427.07 296.87 L429.52 296.87 L429.52 297.89 L431.57 297.89 L431.57 298.71 L433.61 298.71 L433.61 299.52 L435.66 299.52 L435.66 300.55 L437.70 300.55 L437.70 301.57 L439.74 301.57 L439.74 302.59 L441.79 302.59 L441.79 303.61 L443.15 303.61 L443.15 304.63 L444.51 304.63 L444.51 305.66 L445.87 305.66 L445.87 306.68 L447.41 306.68 L447.41 307.70 L448.94 307.70 L448.94 308.72 L453.03 308.72 L453.03 310.15 L458.14 310.15 L458.14 311.38 L464.27 311.38 L464.27 312.20 L474.49 312.20 L474.49 312.81 L480.62 312.81 L480.62 313.83 L490.84 313.83 L490.84 314.85 L496.97 314.85 L496.97 315.87 L505.14 315.87 L505.14 316.90 L506.16 316.90 L506.16 318.53 L527.62 318.53 L531.71 318.53 L531.71 319.55 L540.11 319.55 L540.11 320.55 L541.13 320.55 L541.13 321.57 L542.15 321.57 L542.15 322.59 L547.26 322.59 L547.26 323.20 L551.35 323.20 L551.35 324.63 L567.70 324.63 L567.70 325.04 L575.87 325.04 L575.87 326.06 L586.09 326.06 L586.09 327.09 L596.31 327.09 L596.31 327.70 L597.33 327.70 L597.33 328.52 L598.36 328.52 L598.36 329.33 L606.53 329.33 L606.53 329.74 L607.55 329.74 L607.55 330.56 L608.57 330.56 L608.57 331.38 L612.66 331.38 L612.66 332.20 L629.01 332.20 L630.03 332.20 L630.03 333.52 L631.06 333.52 L631.06 334.85 L637.19 334.85 L637.19 335.47 L641.27 335.47 L641.27 336.28 L643.32 336.28 L643.32 337.31 L645.36 337.31 L645.36 338.33 L671.93 338.33" fill="none" stroke="#4a4a4a" stroke-width="1.5"/>
<path d="M420.33 284.05v5.20M417.73 286.65h5.20M438.72 298.97v5.20M436.12 301.57h5.20M447.92 305.10v5.20M445.32 307.70h5.20M453.03 307.55v5.20M450.43 310.15h5.20M459.16 308.78v5.20M456.56 311.38h5.20M463.86 308.78v5.20M461.26 311.38h5.20M474.08 309.60v5.20M471.48 312.20h5.20M481.03 311.23v5.20M478.43 313.83h5.20M491.25 312.25v5.20M488.65 314.85h5.20M497.38 313.27v5.20M494.78 315.87h5.20M505.55 314.30v5.20M502.95 316.90h5.20M515.36 315.93v5.20M512.76 318.53h5.20M517.41 315.93v5.20M514.81 318.53h5.20M520.47 315.93v5.20M517.87 318.53h5.20M522.51 315.93v5.20M519.91 318.53h5.20M528.65 315.93v5.20M526.05 318.53h5.20M539.89 316.95v5.20M537.29 319.55h5.20M539.09 316.95v5.20M536.49 319.55h5.20M544.20 319.99v5.20M541.60 322.59h5.20M555.44 322.03v5.20M552.84 324.63h5.20M557.48 322.03v5.20M554.88 324.63h5.20M560.55 322.03v5.20M557.95 324.63h5.20M562.59 322.03v5.20M559.99 324.63h5.20M566.68 322.03v5.20M564.08 324.63h5.20M570.77 322.44v5.20M568.17 325.04h5.20M572.81 322.44v5.20M570.21 325.04h5.20M575.87 323.46v5.20M573.27 326.06h5.20M580.98 323.46v5.20M578.38 326.06h5.20M583.03 323.46v5.20M580.43 326.06h5.20M585.07 323.46v5.20M582.47 326.06h5.20M589.16 324.49v5.20M586.56 327.09h5.20M591.20 324.49v5.20M588.60 327.09h5.20M594.27 324.49v5.20M591.67 327.09h5.20M596.31 325.10v5.20M593.71 327.70h5.20M606.53 327.14v5.20M603.93 329.74h5.20M609.60 328.78v5.20M607.00 331.38h5.20M621.86 329.60v5.20M619.26 332.20h5.20M623.90 329.60v5.20M621.30 332.20h5.20M627.99 329.60v5.20M625.39 332.20h5.20M639.23 332.87v5.20M636.63 335.47h5.20M642.30 333.68v5.20M639.70 336.28h5.20M651.49 335.73v5.20M648.89 338.33h5.20M653.54 335.73v5.20M650.94 338.33h5.20M656.60 335.73v5.20M654.00 338.33h5.20M659.67 335.73v5.20M657.07 338.33h5.20M662.73 335.73v5.20M660.13 338.33h5.20M665.80 335.73v5.20M663.20 338.33h5.20M668.86 335.73v5.20M666.26 338.33h5.20M670.91 335.73v5.20M668.31 338.33h5.20" fill="none" stroke="#4a4a4a" stroke-width="0.75"/>
<text x="406.5" y="464.0" font-size="11.2" fill="#000">Number at risk</text>
<path d="M406.50 471.00V488.10H683.70" stroke="#262626" stroke-width="1" fill="none"/>
<text x="418.7" y="498.0" font-size="8.2" text-anchor="middle" fill="#000">0</text>
<text class="n" x="418.7" y="478.0" font-size="8.2" text-anchor="middle" fill="#000">218</text>
<text class="n" x="418.7" y="486.4" font-size="8.2" text-anchor="middle" fill="#000">137</text>
<text x="443.9" y="498.0" font-size="8.2" text-anchor="middle" fill="#000">1</text>
<text class="n" x="443.9" y="478.0" font-size="8.2" text-anchor="middle" fill="#000">205</text>
<text class="n" x="443.9" y="486.4" font-size="8.2" text-anchor="middle" fill="#000">131</text>
<text x="469.1" y="498.0" font-size="8.2" text-anchor="middle" fill="#000">2</text>
<text class="n" x="469.1" y="478.0" font-size="8.2" text-anchor="middle" fill="#000">189</text>
<text class="n" x="469.1" y="486.4" font-size="8.2" text-anchor="middle" fill="#000">122</text>
<text x="494.2" y="498.0" font-size="8.2" text-anchor="middle" fill="#000">3</text>
<text class="n" x="494.2" y="478.0" font-size="8.2" text-anchor="middle" fill="#000">177</text>
<text class="n" x="494.2" y="486.4" font-size="8.2" text-anchor="middle" fill="#000">115</text>
<text x="519.4" y="498.0" font-size="8.2" text-anchor="middle" fill="#000">4</text>
<text class="n" x="519.4" y="478.0" font-size="8.2" text-anchor="middle" fill="#000">159</text>
<text class="n" x="519.4" y="486.4" font-size="8.2" text-anchor="middle" fill="#000">108</text>
<text x="544.6" y="498.0" font-size="8.2" text-anchor="middle" fill="#000">5</text>
<text class="n" x="544.6" y="478.0" font-size="8.2" text-anchor="middle" fill="#000">137</text>
<text class="n" x="544.6" y="486.4" font-size="8.2" text-anchor="middle" fill="#000">94</text>
<text x="569.8" y="498.0" font-size="8.2" text-anchor="middle" fill="#000">6</text>
<text class="n" x="569.8" y="478.0" font-size="8.2" text-anchor="middle" fill="#000">121</text>
<text class="n" x="569.8" y="486.4" font-size="8.2" text-anchor="middle" fill="#000">81</text>
<text x="595.0" y="498.0" font-size="8.2" text-anchor="middle" fill="#000">7</text>
<text class="n" x="595.0" y="478.0" font-size="8.2" text-anchor="middle" fill="#000">101</text>
<text class="n" x="595.0" y="486.4" font-size="8.2" text-anchor="middle" fill="#000">68</text>
<text x="620.1" y="498.0" font-size="8.2" text-anchor="middle" fill="#000">8</text>
<text class="n" x="620.1" y="478.0" font-size="8.2" text-anchor="middle" fill="#000">79</text>
<text class="n" x="620.1" y="486.4" font-size="8.2" text-anchor="middle" fill="#000">60</text>
<text x="645.3" y="498.0" font-size="8.2" text-anchor="middle" fill="#000">9</text>
<text class="n" x="645.3" y="478.0" font-size="8.2" text-anchor="middle" fill="#000">70</text>
<text class="n" x="645.3" y="486.4" font-size="8.2" text-anchor="middle" fill="#000">50</text>
<path d="M406.50 475.30h-2.7M406.50 483.40h-2.7M418.70 488.10v2.7M443.88 488.10v2.7M469.06 488.10v2.7M494.24 488.10v2.7M519.42 488.10v2.7M544.60 488.10v2.7M569.78 488.10v2.7M594.96 488.10v2.7M620.14 488.10v2.7M645.32 488.10v2.7" stroke="#333" stroke-width="0.75" fill="none"/>
<text class="rl g" x="345.9" y="478.0" fill="#a8a8a8" textLength="57.8" lengthAdjust="spacingAndGlyphs">TP53 abnormal</text>
<text class="rl" x="345.9" y="488.0" fill="#000" textLength="48.7" lengthAdjust="spacingAndGlyphs">TP53 normal</text>
<text x="545.1" y="509.3" font-size="10" text-anchor="middle" fill="#000">Time (years)</text>
</g>
<g>
<text x="4.7" y="533.4" font-size="16.3" fill="#000">E</text>
<text x="61.9" y="533.3" font-size="11.25" fill="#000">Combined MBOT DSS</text>
<path d="M61.60 540.30V685.90H339.00" fill="none" stroke="#262626" stroke-width="1"/>
<text x="57.5" y="682.4" font-size="8.2" text-anchor="end" fill="#000">0.00</text>
<text x="57.5" y="649.2" font-size="8.2" text-anchor="end" fill="#000">0.25</text>
<text x="57.5" y="616.1" font-size="8.2" text-anchor="end" fill="#000">0.50</text>
<text x="57.5" y="582.9" font-size="8.2" text-anchor="end" fill="#000">0.75</text>
<text x="57.5" y="549.8" font-size="8.2" text-anchor="end" fill="#000">1.00</text>
<text x="74.2" y="696.0" font-size="8.2" text-anchor="middle" fill="#000">0</text>
<text x="99.4" y="696.0" font-size="8.2" text-anchor="middle" fill="#000">1</text>
<text x="124.6" y="696.0" font-size="8.2" text-anchor="middle" fill="#000">2</text>
<text x="149.8" y="696.0" font-size="8.2" text-anchor="middle" fill="#000">3</text>
<text x="174.9" y="696.0" font-size="8.2" text-anchor="middle" fill="#000">4</text>
<text x="200.1" y="696.0" font-size="8.2" text-anchor="middle" fill="#000">5</text>
<text x="225.3" y="696.0" font-size="8.2" text-anchor="middle" fill="#000">6</text>
<text x="250.4" y="696.0" font-size="8.2" text-anchor="middle" fill="#000">7</text>
<text x="275.6" y="696.0" font-size="8.2" text-anchor="middle" fill="#000">8</text>
<text x="300.8" y="696.0" font-size="8.2" text-anchor="middle" fill="#000">9</text>
<path d="M61.60 679.50h-2.7M61.60 646.35h-2.7M61.60 613.20h-2.7M61.60 580.05h-2.7M61.60 546.90h-2.7M74.25 685.90v2.7M99.42 685.90v2.7M124.59 685.90v2.7M149.76 685.90v2.7M174.93 685.90v2.7M200.10 685.90v2.7M225.27 685.90v2.7M250.44 685.90v2.7M275.61 685.90v2.7M300.78 685.90v2.7" stroke="#333" stroke-width="0.75" fill="none"/>
<text x="200.3" y="706.1" font-size="8.5" text-anchor="middle" fill="#000">Time (years)</text>
<text transform="translate(24.9 610.9) rotate(-90)" font-size="10.6" text-anchor="middle" fill="#000">Survival probability</text>
<text x="79.0" y="655.4" font-size="8" fill="#000">p=0.033, HR=4.5, 95% CI:1.1-18</text>
<path d="M73.90 546.85 L82.07 546.85 L82.07 551.55 L107.01 551.55 L107.01 557.07 L112.52 557.07 L112.52 561.77 L178.54 561.77 L178.54 567.29 L326.70 567.29 L326.70 567.30" fill="none" stroke="#bebebe" stroke-width="1.25"/>
<path d="M199.60 564.69v5.20M197.00 567.29h5.20M83.09 548.95v5.20M80.49 551.55h5.20M118.66 559.17v5.20M116.06 561.77h5.20M145.84 559.17v5.20M143.24 561.77h5.20M150.54 559.17v5.20M147.94 561.77h5.20M161.78 559.17v5.20M159.18 561.77h5.20M175.47 559.17v5.20M172.87 561.77h5.20M182.22 564.69v5.20M179.62 567.29h5.20M187.73 564.69v5.20M185.13 567.29h5.20M219.42 564.69v5.20M216.82 567.29h5.20M233.72 564.69v5.20M231.12 567.29h5.20M254.57 564.69v5.20M251.97 567.29h5.20M267.03 564.69v5.20M264.43 567.29h5.20M326.30 564.69v5.20M323.70 567.29h5.20" fill="none" stroke="#bebebe" stroke-width="0.75"/>
<path d="M73.90 546.90 L99.90 546.90 L99.90 548.00 L118.20 548.00 L118.20 548.90 L166.30 548.90 L166.30 550.30 L195.50 550.30 L195.50 551.70 L326.70 551.70 L326.70 551.70" fill="none" stroke="#4a4a4a" stroke-width="1.5"/>
<path d="M75.33 544.30v5.20M72.73 546.90h5.20M79.42 544.30v5.20M76.82 546.90h5.20M81.05 544.30v5.20M78.45 546.90h5.20M88.61 544.30v5.20M86.01 546.90h5.20M91.68 544.30v5.20M89.08 546.90h5.20M95.15 544.30v5.20M92.55 546.90h5.20M96.79 544.30v5.20M94.19 546.90h5.20M98.83 544.30v5.20M96.23 546.90h5.20M103.53 545.40v5.20M100.93 548.00h5.20M112.73 545.40v5.20M110.13 548.00h5.20M114.77 545.40v5.20M112.17 548.00h5.20M122.33 546.30v5.20M119.73 548.90h5.20M124.38 546.30v5.20M121.78 548.90h5.20M125.81 546.30v5.20M123.21 548.90h5.20M127.44 546.30v5.20M124.84 548.90h5.20M136.64 546.30v5.20M134.04 548.90h5.20M143.18 546.30v5.20M140.58 548.90h5.20M149.31 546.30v5.20M146.71 548.90h5.20M150.95 546.30v5.20M148.35 548.90h5.20M152.38 546.30v5.20M149.78 548.90h5.20M155.03 546.30v5.20M152.43 548.90h5.20M158.51 546.30v5.20M155.91 548.90h5.20M160.14 546.30v5.20M157.54 548.90h5.20M162.19 546.30v5.20M159.59 548.90h5.20M163.62 546.30v5.20M161.02 548.90h5.20M168.32 547.70v5.20M165.72 550.30h5.20M172.41 547.70v5.20M169.81 550.30h5.20M177.11 547.70v5.20M174.51 550.30h5.20M179.56 547.70v5.20M176.96 550.30h5.20M181.60 547.70v5.20M179.00 550.30h5.20M183.65 547.70v5.20M181.05 550.30h5.20M185.08 547.70v5.20M182.48 550.30h5.20M186.71 547.70v5.20M184.11 550.30h5.20M192.84 547.70v5.20M190.24 550.30h5.20M201.02 549.10v5.20M198.42 551.70h5.20M207.15 549.10v5.20M204.55 551.70h5.20M208.58 549.10v5.20M205.98 551.70h5.20M212.67 549.10v5.20M210.07 551.70h5.20M218.80 549.10v5.20M216.20 551.70h5.20M221.46 549.10v5.20M218.86 551.70h5.20M223.50 549.10v5.20M220.90 551.70h5.20M224.52 549.10v5.20M221.92 551.70h5.20M230.66 549.10v5.20M228.06 551.70h5.20M232.09 549.10v5.20M229.49 551.70h5.20M237.40 549.10v5.20M234.80 551.70h5.20M245.98 549.10v5.20M243.38 551.70h5.20M249.05 549.10v5.20M246.45 551.70h5.20M250.07 549.10v5.20M247.47 551.70h5.20M256.82 549.10v5.20M254.22 551.70h5.20M257.84 549.10v5.20M255.24 551.70h5.20M261.31 549.10v5.20M258.71 551.70h5.20M286.86 549.10v5.20M284.26 551.70h5.20M288.29 549.10v5.20M285.69 551.70h5.20M298.71 549.10v5.20M296.11 551.70h5.20M300.14 549.10v5.20M297.54 551.70h5.20M304.64 549.10v5.20M302.04 551.70h5.20M307.70 549.10v5.20M305.10 551.70h5.20M326.30 549.10v5.20M323.70 551.70h5.20" fill="none" stroke="#4a4a4a" stroke-width="0.75"/>
<text x="61.6" y="723.9" font-size="11.2" fill="#000">Number at risk</text>
<path d="M61.60 731.10V748.10H339.00" stroke="#262626" stroke-width="1" fill="none"/>
<text x="74.2" y="758.3" font-size="8.2" text-anchor="middle" fill="#000">0</text>
<text class="n" x="74.2" y="738.7" font-size="8.2" text-anchor="middle" fill="#000">28</text>
<text class="n" x="74.2" y="746.8" font-size="8.2" text-anchor="middle" fill="#000">118</text>
<text x="99.4" y="758.3" font-size="8.2" text-anchor="middle" fill="#000">1</text>
<text class="n" x="99.4" y="738.7" font-size="8.2" text-anchor="middle" fill="#000">25</text>
<text class="n" x="99.4" y="746.8" font-size="8.2" text-anchor="middle" fill="#000">117</text>
<text x="124.6" y="758.3" font-size="8.2" text-anchor="middle" fill="#000">2</text>
<text class="n" x="124.6" y="738.7" font-size="8.2" text-anchor="middle" fill="#000">25</text>
<text class="n" x="124.6" y="746.8" font-size="8.2" text-anchor="middle" fill="#000">115</text>
<text x="149.8" y="758.3" font-size="8.2" text-anchor="middle" fill="#000">3</text>
<text class="n" x="149.8" y="738.7" font-size="8.2" text-anchor="middle" fill="#000">24</text>
<text class="n" x="149.8" y="746.8" font-size="8.2" text-anchor="middle" fill="#000">109</text>
<text x="174.9" y="758.3" font-size="8.2" text-anchor="middle" fill="#000">4</text>
<text class="n" x="174.9" y="738.7" font-size="8.2" text-anchor="middle" fill="#000">22</text>
<text class="n" x="174.9" y="746.8" font-size="8.2" text-anchor="middle" fill="#000">93</text>
<text x="200.1" y="758.3" font-size="8.2" text-anchor="middle" fill="#000">5</text>
<text class="n" x="200.1" y="738.7" font-size="8.2" text-anchor="middle" fill="#000">16</text>
<text class="n" x="200.1" y="746.8" font-size="8.2" text-anchor="middle" fill="#000">81</text>
<text x="225.3" y="758.3" font-size="8.2" text-anchor="middle" fill="#000">6</text>
<text class="n" x="225.3" y="738.7" font-size="8.2" text-anchor="middle" fill="#000">15</text>
<text class="n" x="225.3" y="746.8" font-size="8.2" text-anchor="middle" fill="#000">66</text>
<text x="250.4" y="758.3" font-size="8.2" text-anchor="middle" fill="#000">7</text>
<text class="n" x="250.4" y="738.7" font-size="8.2" text-anchor="middle" fill="#000">14</text>
<text class="n" x="250.4" y="746.8" font-size="8.2" text-anchor="middle" fill="#000">60</text>
<text x="275.6" y="758.3" font-size="8.2" text-anchor="middle" fill="#000">8</text>
<text class="n" x="275.6" y="738.7" font-size="8.2" text-anchor="middle" fill="#000">12</text>
<text class="n" x="275.6" y="746.8" font-size="8.2" text-anchor="middle" fill="#000">57</text>
<text x="300.8" y="758.3" font-size="8.2" text-anchor="middle" fill="#000">9</text>
<text class="n" x="300.8" y="738.7" font-size="8.2" text-anchor="middle" fill="#000">12</text>
<text class="n" x="300.8" y="746.8" font-size="8.2" text-anchor="middle" fill="#000">52</text>
<path d="M61.60 735.00h-2.7M61.60 743.70h-2.7M74.25 748.10v2.7M99.42 748.10v2.7M124.59 748.10v2.7M149.76 748.10v2.7M174.93 748.10v2.7M200.10 748.10v2.7M225.27 748.10v2.7M250.44 748.10v2.7M275.61 748.10v2.7M300.78 748.10v2.7" stroke="#333" stroke-width="0.75" fill="none"/>
<text class="rl g" x="0.4" y="738.0" fill="#a8a8a8" textLength="57.4" lengthAdjust="spacingAndGlyphs">TP53 abnormal</text>
<text class="rl" x="0.4" y="748.0" fill="#000" textLength="48.4" lengthAdjust="spacingAndGlyphs">TP53 normal</text>
<text x="200.3" y="769.3" font-size="10" text-anchor="middle" fill="#000">Time (years)</text>
</g>
<g>
<text x="354.7" y="533.4" font-size="16.3" fill="#000">F</text>
<text x="406.8" y="535.8" font-size="11.25" fill="#000">Combined MOC DSS</text>
<path d="M406.50 542.80V688.30H683.70" fill="none" stroke="#262626" stroke-width="1"/>
<text x="402.4" y="684.8" font-size="8.2" text-anchor="end" fill="#000">0.00</text>
<text x="402.4" y="651.7" font-size="8.2" text-anchor="end" fill="#000">0.25</text>
<text x="402.4" y="618.5" font-size="8.2" text-anchor="end" fill="#000">0.50</text>
<text x="402.4" y="585.4" font-size="8.2" text-anchor="end" fill="#000">0.75</text>
<text x="402.4" y="552.3" font-size="8.2" text-anchor="end" fill="#000">1.00</text>
<text x="418.7" y="698.8" font-size="8.2" text-anchor="middle" fill="#000">0</text>
<text x="443.9" y="698.8" font-size="8.2" text-anchor="middle" fill="#000">1</text>
<text x="469.1" y="698.8" font-size="8.2" text-anchor="middle" fill="#000">2</text>
<text x="494.2" y="698.8" font-size="8.2" text-anchor="middle" fill="#000">3</text>
<text x="519.4" y="698.8" font-size="8.2" text-anchor="middle" fill="#000">4</text>
<text x="544.6" y="698.8" font-size="8.2" text-anchor="middle" fill="#000">5</text>
<text x="569.8" y="698.8" font-size="8.2" text-anchor="middle" fill="#000">6</text>
<text x="595.0" y="698.8" font-size="8.2" text-anchor="middle" fill="#000">7</text>
<text x="620.1" y="698.8" font-size="8.2" text-anchor="middle" fill="#000">8</text>
<text x="645.3" y="698.8" font-size="8.2" text-anchor="middle" fill="#000">9</text>
<path d="M406.50 681.90h-2.7M406.50 648.77h-2.7M406.50 615.65h-2.7M406.50 582.52h-2.7M406.50 549.40h-2.7M418.70 688.30v2.7M443.88 688.30v2.7M469.06 688.30v2.7M494.24 688.30v2.7M519.42 688.30v2.7M544.60 688.30v2.7M569.78 688.30v2.7M594.96 688.30v2.7M620.14 688.30v2.7M645.32 688.30v2.7" stroke="#333" stroke-width="0.75" fill="none"/>
<text x="545.1" y="708.9" font-size="8.5" text-anchor="middle" fill="#000">Time (years)</text>
<text transform="translate(368.5 610.9) rotate(-90)" font-size="10.6" text-anchor="middle" fill="#000">Survival probability</text>
<text x="424.0" y="659.0" font-size="8" fill="#000">p=0.34, HR=1.2, 95% CI:0.81-1.9</text>
<path d="M418.90 549.31 L425.44 550.94 L430.55 553.80 L435.66 556.46 L440.77 559.12 L445.87 561.57 L452.01 564.63 L458.14 566.68 L464.27 568.11 L468.36 570.15 L472.44 572.20 L475.51 575.87 L482.66 576.90 L490.84 577.92 L496.97 579.96 L503.10 582.01 L509.23 583.44 L515.36 584.66 L535.80 585.07 L555.44 585.66 L559.52 587.29 L590.18 587.70 L592.22 589.13 L669.89 589.13" fill="none" stroke="#bebebe" stroke-width="1.25"/>
<path d="M423.03 547.74v5.20M420.43 550.34h5.20M425.52 548.39v5.20M422.92 550.99h5.20M427.31 549.39v5.20M424.71 551.99h5.20M435.40 553.73v5.20M432.80 556.33h5.20M439.74 555.98v5.20M437.14 558.58h5.20M441.69 556.96v5.20M439.09 559.56h5.20M444.39 558.25v5.20M441.79 560.85h5.20M445.39 558.74v5.20M442.79 561.34h5.20M448.63 560.34v5.20M446.03 562.94h5.20M454.27 562.79v5.20M451.67 565.39h5.20M459.22 564.33v5.20M456.62 566.93h5.20M462.95 565.20v5.20M460.35 567.80h5.20M467.00 566.88v5.20M464.40 569.48h5.20M467.92 567.33v5.20M465.32 569.93h5.20M469.75 568.25v5.20M467.15 570.85h5.20M473.71 571.11v5.20M471.11 573.71h5.20M476.11 573.36v5.20M473.51 575.96h5.20M480.13 573.94v5.20M477.53 576.54h5.20M485.19 574.61v5.20M482.59 577.21h5.20M489.21 575.12v5.20M486.61 577.72h5.20M491.93 575.68v5.20M489.33 578.28h5.20M492.17 575.76v5.20M489.57 578.36h5.20M492.48 575.87v5.20M489.88 578.47h5.20M494.06 576.39v5.20M491.46 578.99h5.20M495.25 576.79v5.20M492.65 579.39h5.20M500.25 578.46v5.20M497.65 581.06h5.20M501.05 578.72v5.20M498.45 581.32h5.20M506.99 580.31v5.20M504.39 582.91h5.20M507.68 580.47v5.20M505.08 583.07h5.20M509.58 580.91v5.20M506.98 583.51h5.20M510.02 580.99v5.20M507.42 583.59h5.20M511.19 581.23v5.20M508.59 583.83h5.20M512.06 581.40v5.20M509.46 584.00h5.20M517.24 582.10v5.20M514.64 584.70h5.20M517.33 582.10v5.20M514.73 584.70h5.20M517.45 582.10v5.20M514.85 584.70h5.20M517.76 582.11v5.20M515.16 584.71h5.20M523.98 582.24v5.20M521.38 584.84h5.20M525.00 582.26v5.20M522.40 584.86h5.20M526.75 582.29v5.20M524.15 584.89h5.20M527.63 582.31v5.20M525.03 584.91h5.20M534.31 582.44v5.20M531.71 585.04h5.20M536.71 582.50v5.20M534.11 585.10h5.20M537.60 582.53v5.20M535.00 585.13h5.20M538.00 582.54v5.20M535.40 585.14h5.20M544.04 582.72v5.20M541.44 585.32h5.20M544.23 582.72v5.20M541.63 585.32h5.20M546.03 582.78v5.20M543.43 585.38h5.20M549.18 582.87v5.20M546.58 585.47h5.20M549.26 582.87v5.20M546.66 585.47h5.20M550.52 582.91v5.20M547.92 585.51h5.20M552.14 582.96v5.20M549.54 585.56h5.20M552.26 582.96v5.20M549.66 585.56h5.20M552.39 582.97v5.20M549.79 585.57h5.20M553.23 582.99v5.20M550.63 585.59h5.20M553.24 582.99v5.20M550.64 585.59h5.20M558.87 584.43v5.20M556.27 587.03h5.20M559.22 584.57v5.20M556.62 587.17h5.20M559.48 584.67v5.20M556.88 587.27h5.20M559.62 584.69v5.20M557.02 587.29h5.20M560.42 584.70v5.20M557.82 587.30h5.20M564.52 584.76v5.20M561.92 587.36h5.20M564.98 584.76v5.20M562.38 587.36h5.20M566.21 584.78v5.20M563.61 587.38h5.20M569.46 584.82v5.20M566.86 587.42h5.20M570.30 584.83v5.20M567.70 587.43h5.20M573.82 584.88v5.20M571.22 587.48h5.20M574.85 584.90v5.20M572.25 587.50h5.20M575.02 584.90v5.20M572.42 587.50h5.20M577.77 584.93v5.20M575.17 587.53h5.20M582.13 584.99v5.20M579.53 587.59h5.20M584.62 585.03v5.20M582.02 587.63h5.20M587.21 585.06v5.20M584.61 587.66h5.20M588.01 585.07v5.20M585.41 587.67h5.20M590.57 585.37v5.20M587.97 587.97h5.20M597.18 586.53v5.20M594.58 589.13h5.20M597.32 586.53v5.20M594.72 589.13h5.20M598.40 586.53v5.20M595.80 589.13h5.20M600.25 586.53v5.20M597.65 589.13h5.20M608.71 586.53v5.20M606.11 589.13h5.20M609.53 586.53v5.20M606.93 589.13h5.20M609.57 586.53v5.20M606.97 589.13h5.20M610.73 586.53v5.20M608.13 589.13h5.20M610.83 586.53v5.20M608.23 589.13h5.20M612.16 586.53v5.20M609.56 589.13h5.20M612.85 586.53v5.20M610.25 589.13h5.20M614.35 586.53v5.20M611.75 589.13h5.20M615.29 586.53v5.20M612.69 589.13h5.20M619.62 586.53v5.20M617.02 589.13h5.20M620.76 586.53v5.20M618.16 589.13h5.20M623.15 586.53v5.20M620.55 589.13h5.20M625.70 586.53v5.20M623.10 589.13h5.20M629.05 586.53v5.20M626.45 589.13h5.20M631.11 586.53v5.20M628.51 589.13h5.20M636.46 586.53v5.20M633.86 589.13h5.20M640.15 586.53v5.20M637.55 589.13h5.20M643.20 586.53v5.20M640.60 589.13h5.20M657.48 586.53v5.20M654.88 589.13h5.20M658.22 586.53v5.20M655.62 589.13h5.20M660.53 586.53v5.20M657.93 589.13h5.20M660.69 586.53v5.20M658.09 589.13h5.20M662.75 586.53v5.20M660.15 589.13h5.20M664.57 586.53v5.20M661.97 589.13h5.20M665.21 586.53v5.20M662.61 589.13h5.20M667.51 586.53v5.20M664.91 589.13h5.20" fill="none" stroke="#bebebe" stroke-width="0.75"/>
<path d="M418.90 549.31 L423.39 549.31 L423.39 549.71 L424.42 549.71 L424.42 551.04 L425.44 551.04 L425.44 552.37 L426.46 552.37 L426.46 554.42 L427.48 554.42 L427.48 556.46 L429.52 556.46 L429.52 557.48 L431.57 557.48 L431.57 558.50 L434.63 558.50 L434.63 559.52 L437.70 559.52 L437.70 560.55 L440.77 560.55 L440.77 561.57 L443.83 561.57 L443.83 562.59 L445.19 562.59 L445.19 563.61 L446.56 563.61 L446.56 564.63 L447.92 564.63 L447.92 565.66 L449.96 565.66 L449.96 566.47 L452.01 566.47 L452.01 567.29 L458.14 567.29 L458.14 568.11 L464.27 568.11 L464.27 569.33 L474.49 569.33 L474.49 570.36 L480.62 570.36 L480.62 571.79 L490.84 571.79 L490.84 572.40 L496.97 572.40 L496.97 572.81 L505.14 572.81 L505.14 573.83 L535.80 573.83 L541.13 573.83 L541.13 574.42 L542.15 574.42 L542.15 575.23 L543.17 575.23 L543.17 576.05 L567.70 576.05 L567.70 576.46 L569.74 576.46 L569.74 577.89 L579.96 577.89 L579.96 578.50 L582.01 578.50 L582.01 579.52 L596.31 579.52 L597.33 579.52 L597.33 580.96 L605.51 580.96 L606.53 580.96 L606.53 581.77 L607.55 581.77 L607.55 582.59 L629.01 582.59 L630.03 582.59 L630.03 583.41 L631.06 583.41 L631.06 584.23 L670.50 584.23 L670.91 584.23 L670.91 586.68 L671.52 586.68" fill="none" stroke="#4a4a4a" stroke-width="1.5"/>
<path d="M420.33 546.71v5.20M417.73 549.31h5.20M425.44 549.77v5.20M422.84 552.37h5.20M438.72 557.95v5.20M436.12 560.55h5.20M447.92 563.06v5.20M445.32 565.66h5.20M453.03 564.69v5.20M450.43 567.29h5.20M459.16 565.51v5.20M456.56 568.11h5.20M463.86 565.51v5.20M461.26 568.11h5.20M474.08 566.73v5.20M471.48 569.33h5.20M481.03 569.19v5.20M478.43 571.79h5.20M491.25 569.80v5.20M488.65 572.40h5.20M497.38 570.21v5.20M494.78 572.81h5.20M505.55 571.23v5.20M502.95 573.83h5.20M515.36 571.23v5.20M512.76 573.83h5.20M517.41 571.23v5.20M514.81 573.83h5.20M520.47 571.23v5.20M517.87 573.83h5.20M522.51 571.23v5.20M519.91 573.83h5.20M528.65 571.23v5.20M526.05 573.83h5.20M531.71 571.23v5.20M529.11 573.83h5.20M539.89 571.23v5.20M537.29 573.83h5.20M539.09 571.23v5.20M536.49 573.83h5.20M544.20 573.45v5.20M541.60 576.05h5.20M546.24 573.45v5.20M543.64 576.05h5.20M550.33 573.45v5.20M547.73 576.05h5.20M555.44 573.45v5.20M552.84 576.05h5.20M557.48 573.45v5.20M554.88 576.05h5.20M560.55 573.45v5.20M557.95 576.05h5.20M562.59 573.45v5.20M559.99 576.05h5.20M566.68 573.45v5.20M564.08 576.05h5.20M570.77 575.29v5.20M568.17 577.89h5.20M572.81 575.29v5.20M570.21 577.89h5.20M575.87 575.29v5.20M573.27 577.89h5.20M580.98 575.90v5.20M578.38 578.50h5.20M583.03 576.92v5.20M580.43 579.52h5.20M585.07 576.92v5.20M582.47 579.52h5.20M589.16 576.92v5.20M586.56 579.52h5.20M591.20 576.92v5.20M588.60 579.52h5.20M594.27 576.92v5.20M591.67 579.52h5.20M596.31 576.92v5.20M593.71 579.52h5.20M602.44 578.36v5.20M599.84 580.96h5.20M606.53 579.17v5.20M603.93 581.77h5.20M609.60 579.99v5.20M607.00 582.59h5.20M611.64 579.99v5.20M609.04 582.59h5.20M621.86 579.99v5.20M619.26 582.59h5.20M623.90 579.99v5.20M621.30 582.59h5.20M627.99 579.99v5.20M625.39 582.59h5.20M631.06 581.63v5.20M628.46 584.23h5.20M639.23 581.63v5.20M636.63 584.23h5.20M641.27 581.63v5.20M638.67 584.23h5.20M645.36 581.63v5.20M642.76 584.23h5.20M651.49 581.63v5.20M648.89 584.23h5.20M653.54 581.63v5.20M650.94 584.23h5.20M659.67 581.63v5.20M657.07 584.23h5.20M662.73 581.63v5.20M660.13 584.23h5.20M665.80 581.63v5.20M663.20 584.23h5.20M668.86 581.63v5.20M666.26 584.23h5.20M670.91 584.08v5.20M668.31 586.68h5.20" fill="none" stroke="#4a4a4a" stroke-width="0.75"/>
<text x="406.5" y="727.0" font-size="11.2" fill="#000">Number at risk</text>
<path d="M406.50 733.70V750.70H683.70" stroke="#262626" stroke-width="1" fill="none"/>
<text x="418.7" y="761.0" font-size="8.2" text-anchor="middle" fill="#000">0</text>
<text class="n" x="418.7" y="741.1" font-size="8.2" text-anchor="middle" fill="#000">214</text>
<text class="n" x="418.7" y="749.1" font-size="8.2" text-anchor="middle" fill="#000">132</text>
<text x="443.9" y="761.0" font-size="8.2" text-anchor="middle" fill="#000">1</text>
<text class="n" x="443.9" y="741.1" font-size="8.2" text-anchor="middle" fill="#000">201</text>
<text class="n" x="443.9" y="749.1" font-size="8.2" text-anchor="middle" fill="#000">129</text>
<text x="469.1" y="761.0" font-size="8.2" text-anchor="middle" fill="#000">2</text>
<text class="n" x="469.1" y="741.1" font-size="8.2" text-anchor="middle" fill="#000">185</text>
<text class="n" x="469.1" y="749.1" font-size="8.2" text-anchor="middle" fill="#000">120</text>
<text x="494.2" y="761.0" font-size="8.2" text-anchor="middle" fill="#000">3</text>
<text class="n" x="494.2" y="741.1" font-size="8.2" text-anchor="middle" fill="#000">175</text>
<text class="n" x="494.2" y="749.1" font-size="8.2" text-anchor="middle" fill="#000">113</text>
<text x="519.4" y="761.0" font-size="8.2" text-anchor="middle" fill="#000">4</text>
<text class="n" x="519.4" y="741.1" font-size="8.2" text-anchor="middle" fill="#000">158</text>
<text class="n" x="519.4" y="749.1" font-size="8.2" text-anchor="middle" fill="#000">106</text>
<text x="544.6" y="761.0" font-size="8.2" text-anchor="middle" fill="#000">5</text>
<text class="n" x="544.6" y="741.1" font-size="8.2" text-anchor="middle" fill="#000">137</text>
<text class="n" x="544.6" y="749.1" font-size="8.2" text-anchor="middle" fill="#000">94</text>
<text x="569.8" y="761.0" font-size="8.2" text-anchor="middle" fill="#000">6</text>
<text class="n" x="569.8" y="741.1" font-size="8.2" text-anchor="middle" fill="#000">121</text>
<text class="n" x="569.8" y="749.1" font-size="8.2" text-anchor="middle" fill="#000">81</text>
<text x="595.0" y="761.0" font-size="8.2" text-anchor="middle" fill="#000">7</text>
<text class="n" x="595.0" y="741.1" font-size="8.2" text-anchor="middle" fill="#000">101</text>
<text class="n" x="595.0" y="749.1" font-size="8.2" text-anchor="middle" fill="#000">68</text>
<text x="620.1" y="761.0" font-size="8.2" text-anchor="middle" fill="#000">8</text>
<text class="n" x="620.1" y="741.1" font-size="8.2" text-anchor="middle" fill="#000">79</text>
<text class="n" x="620.1" y="749.1" font-size="8.2" text-anchor="middle" fill="#000">60</text>
<text x="645.3" y="761.0" font-size="8.2" text-anchor="middle" fill="#000">9</text>
<text class="n" x="645.3" y="741.1" font-size="8.2" text-anchor="middle" fill="#000">70</text>
<text class="n" x="645.3" y="749.1" font-size="8.2" text-anchor="middle" fill="#000">50</text>
<path d="M406.50 737.70h-2.7M406.50 746.10h-2.7M418.70 750.70v2.7M443.88 750.70v2.7M469.06 750.70v2.7M494.24 750.70v2.7M519.42 750.70v2.7M544.60 750.70v2.7M569.78 750.70v2.7M594.96 750.70v2.7M620.14 750.70v2.7M645.32 750.70v2.7" stroke="#333" stroke-width="0.75" fill="none"/>
<text class="rl g" x="345.9" y="741.0" fill="#a8a8a8" textLength="57.8" lengthAdjust="spacingAndGlyphs">TP53 abnormal</text>
<text class="rl" x="345.9" y="751.0" fill="#000" textLength="48.7" lengthAdjust="spacingAndGlyphs">TP53 normal</text>
<text x="545.1" y="772.0" font-size="10" text-anchor="middle" fill="#000">Time (years)</text>
</g>
</svg>
</body></html>
